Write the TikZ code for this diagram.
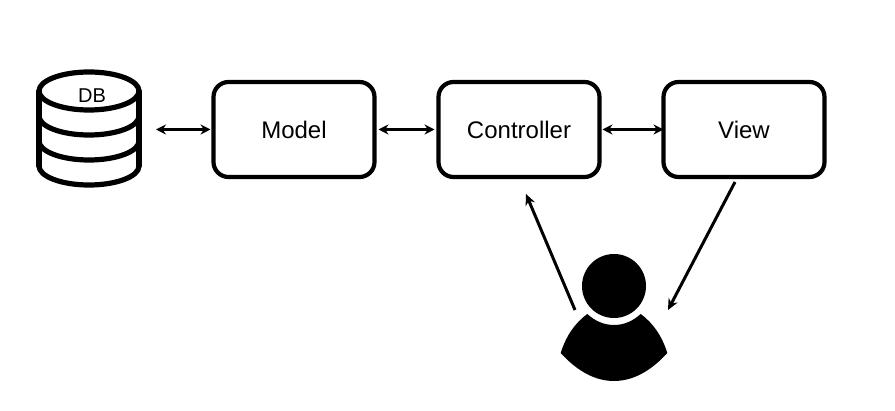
\documentclass[tikz,border=0pt]{standalone}
\usepackage{fontspec}
\setmainfont{Liberation Sans}
\usetikzlibrary{positioning}
\usetikzlibrary{arrows.meta}
\begin{document}
\begin{tikzpicture}[
x = 1pt, y = -1pt,
box/.style = {minimum width = 161pt, minimum height = 95pt, draw, line width = 4.2pt, rounded corners = 15pt, outer sep = 0pt, font = \fontsize{24}{28}\selectfont},
link/.style = {line width = 2.8pt, {Stealth[length = 10pt, width = 10pt]}-{Stealth[length = 10pt, width = 10pt]}},
flow/.style = {line width = 3pt, -{Stealth[length = 11pt, width = 10pt]}},
drum/.style = {line width = 5.2pt, line cap = round}
]
\useasboundingbox (0,0) rectangle (895,411);
% boxes
\node[box] (model) at (294,129.5) {Model};
\node[box, right = 64pt of model] (controller) {Controller};
\node[box, right = 64pt of controller] (view) {View};
% database
\node[minimum width = 100pt, minimum height = 114pt, inner sep = 0pt, outer sep = 0pt] (db) at (89,129.5) {};
\node[inner sep = 0pt, font = \fontsize{20}{24}\selectfont] (dblabel) at (92,96) {DB};
\draw[drum] (39,91) -- (39,166) (139,91) -- (139,166);
\draw[drum] (89,91) ellipse [x radius = 50, y radius = 19];
\foreach \y in {116,141,166}
    \draw[drum] (39,\y) .. controls (39,\y+10.5) and (61.4,\y+19) .. (89,\y+19) .. controls (116.6,\y+19) and (139,\y+10.5) .. (139,\y);
% user
\node[circle, fill, minimum size = 64pt, inner sep = 0pt, outer sep = 0pt] (head) at (614,286) {};
\fill (587.3,314) .. controls (595,321) and (604,325) .. (614,325) .. controls (624,325) and (633,321) .. (640.7,314)
    .. controls (653,323) and (662,336) .. (667.3,353) .. controls (650,372) and (632,381) .. (614,381)
    .. controls (596,381) and (578,372) .. (560.7,353) .. controls (566,336) and (575,323) .. (587.3,314) -- cycle;
% arrows
\coordinate (userleft) at (575,310);
\coordinate (userright) at (668,310);
\coordinate (ctrlin) at (526,194);
\coordinate (viewout) at (735,182);
\draw[link, shorten <= 17pt, shorten >= 3pt] (db.east) -- (model.west |- db.east);
\draw[link, shorten <= 4pt, shorten >= 4pt] (model) -- (controller);
\draw[link, shorten <= 3pt, shorten >= 0pt] (controller) -- (view);
\draw[flow] (userleft) -- (ctrlin);
\draw[flow] (viewout) -- (userright);
\end{tikzpicture}
\end{document}
